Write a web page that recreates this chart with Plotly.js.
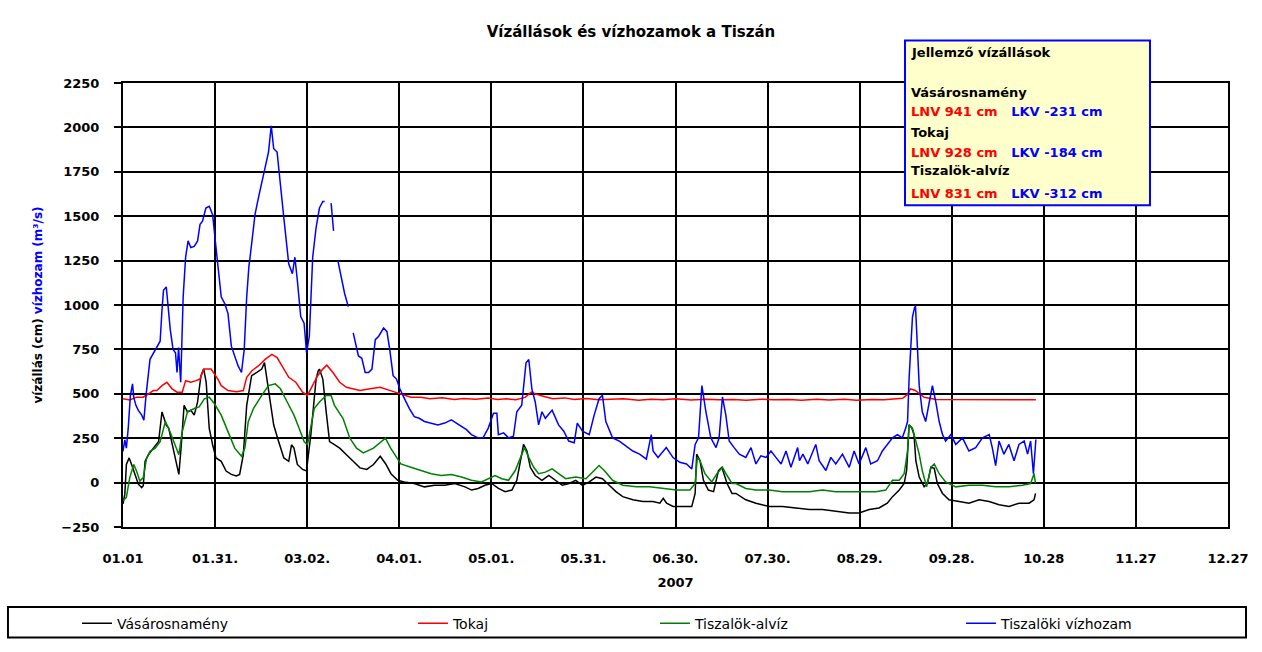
<!DOCTYPE html>
<html>
<head>
<meta charset="utf-8">
<script src="https://cdn.plot.ly/plotly-3.0.1.min.js"></script>
<style>html,body{margin:0;padding:0;background:#fff;}#chart{width:1262px;height:652px;}</style>
</head>
<body>
<div id="chart"></div>
<script>
// ---- data (day of year offset from 01.01, value) ----
var seriesNames = ['Vásárosnamény', 'Tokaj', 'Tiszalök-alvíz', 'Tiszalöki vízhozam'];
var seriesColors = ['#000000', '#ff0000', '#008000', '#0000ff'];

var vasarosDays = [0,0.6,1.1,2,2.8,3.9,5,6.1,6.6,7.2,8.3,9.9,11.6,12.7,13.2,14.1,14.9,16,17.1,18.2,19,19.9,21,22.1,23.2,24.3,25.4,26.3,27.1,28.1,29.2,30.3,32,33.6,35.3,36.9,38,39.2,40.3,41.9,43.6,45.2,46.1,47.4,49.1,50.7,52.4,54,54.9,55.7,56.8,58.5,59.8,60.4,61.2,62.9,63.6,64,65.1,66.2,67.3,69,70.6,72.8,75,77.2,79.4,81.6,83.8,85.6,87.3,89.5,91.6,94.9,98.2,101.5,104.8,108.1,111.4,113.6,115.7,117.9,120.1,122.3,124.5,126.7,128.3,129.4,130.5,131.6,132.7,134.3,136.5,138.7,140.9,143.1,145.3,147.5,149.7,151.9,154.1,156.2,158.4,160.6,162.8,166.1,169.4,172.7,174.9,176,177.1,179.2,182.5,185.3,186.4,186.9,188,189.1,190.7,192.4,194,195.1,196.8,198.4,199.7,202.9,206.2,210.5,214.9,219.2,223.6,227.9,232.2,236.6,239.8,243.1,246.3,249,250.7,252.9,254.5,255.3,256.1,257,257.7,258.3,259.4,261,262.1,263.2,264.3,265.3,267,269.1,272.4,275.6,278.9,282.2,285.4,288.7,291.9,295.2,296.8,297.3];
var vasarosVals = [-120,-65,102,139,102,46,-9,-28,-18,120,157,194,231,398,370,324,305,213,120,46,213,435,398,407,380,454,602,639,565,305,213,139,120,65,46,37,46,157,435,602,620,639,676,528,324,231,139,120,213,194,102,74,65,157,268,583,630,639,583,398,231,213,194,157,120,83,74,102,148,105,50,13,4,-5,-24,-15,-15,-5,-24,-42,-33,-15,-5,-33,-51,-42,13,105,215,178,86,40,13,40,13,-15,-5,13,-15,4,31,22,-15,-51,-79,-97,-107,-107,-116,-88,-116,-134,-134,-134,-61,160,123,13,-42,-51,68,86,-5,-61,-61,-97,-116,-134,-134,-143,-152,-152,-162,-171,-171,-152,-143,-116,-79,-42,-5,68,325,307,270,123,31,-24,-5,86,80,-5,-61,-97,-107,-116,-97,-107,-125,-134,-116,-116,-97,-61];

var tokajDays = [0,2.2,4.4,6.6,8.3,9.9,11,12.7,14.3,16,17.6,19.3,20.4,22.1,23.8,25.1,26.3,28.7,30.9,32,34.2,37,39.2,40.3,42,44.1,46.3,48.5,50.2,51.8,54,56.3,58.5,60.1,61.8,63.4,65.1,66.4,68.4,70.6,72.8,75,77.2,80.5,83.8,87.1,90.4,93.8,97,100,104,108,111,115,119,122,125,128,131,133,136,140,144,147,151,155,159,163,168,172,176,180,185,190,194,199,203,208,212,217,221,226,230,235,239,244,248,252,254,255.5,256.5,258,259.5,261,265,270,275,280,285,290,295,297.4];
var tokajVals = [472,465,481,481,500,518,518,546,565,528,509,509,574,565,574,583,639,639,583,546,518,512,518,593,630,657,694,722,704,657,593,565,509,491,546,602,639,661,620,565,537,528,518,528,537,518,500,481,480,472,478,468,474,470,476,468,472,466,480,509,490,472,477,468,474,466,470,472,464,470,467,472,465,470,466,468,464,470,466,468,464,469,465,470,464,468,466,470,475,495,527,520,500,480,468,467,469,466,468,466,467,467];

var alvizDays = [0,1.1,2.2,3.5,4.4,5.5,6.6,7.7,8.8,10.5,12.1,13.8,14.9,16.5,18.2,19.3,21,23.2,24.8,26.5,28.1,29.8,32,34.2,36.4,38.6,39.7,40.8,42.5,45.2,47.4,49.6,51.3,53.5,55.7,57.4,59,60.1,61.2,62.3,64,66.2,67.8,68.9,71.7,73.9,76.1,78.3,81.6,85.5,87.2,89.3,90.5,93.8,97.1,100.4,103.7,107,110.3,113.5,116.8,119,121.2,123.4,125.6,127.8,129.4,130.8,132.2,133.8,135.4,137.6,139.8,142,144.2,147.5,150.8,153.5,155.1,156.8,159.5,162.8,167.2,171.6,176,180.3,184.7,186.4,187.1,188,189.6,191.8,193.5,195.3,196.8,198.4,199.7,202.9,206.2,210.5,214.9,219.2,223.6,227.9,232.2,236.6,240.9,245.3,248.5,250.7,252.9,254.5,255.6,256.1,257.2,258.3,259.4,260.4,261.8,263.2,264.3,265.9,268,271.3,275.6,280,284.3,288.7,293,295.7,296.8,297.3];
var alvizVals = [-102,-83,28,102,65,9,28,139,176,194,231,343,305,231,157,287,398,417,426,472,481,444,380,287,194,148,194,343,417,491,546,556,528,454,380,305,231,213,324,417,454,491,491,435,361,250,194,167,194,250,194,139,105,86,68,50,40,45,31,13,4,22,40,22,13,68,142,197,142,86,50,59,77,50,22,31,22,68,96,68,13,-15,-24,-24,-33,-42,-42,-5,142,123,50,4,50,86,40,-5,-5,-33,-42,-42,-51,-51,-51,-42,-51,-51,-51,-51,-42,13,13,50,178,325,307,234,160,68,-24,86,105,50,4,-24,-15,-15,-24,-24,-15,-5,50,-5];

var vizhozamDays = [0,0.6,1.1,1.7,2.4,3.1,3.5,4.2,5,6.1,6.8,7.5,8.8,9.9,11,12.1,12.7,13.2,14.1,14.9,15.4,16.3,17.1,17.6,18.1,18.8,19.6,20.4,21.2,22.1,23.2,24.3,25.1,25.9,27,28.1,29.2,30.3,31.1,32,33.1,34.2,35.3,36.4,37.5,38.6,39.5,40.3,41,41.9,43,44.1,45.2,46.3,47.4,48.3,49.1,50.2,51.3,52.4,53.2,54,55.2,56,56.8,57.9,59,59.8,60.7,61.8,62.9,64,65.1,65.7,66.5,67.8,68.6,69.3,70,71.1,72.2,73.4,74.2,75,76.7,77.8,78.9,80,81.1,82.2,83.3,84.9,86,86.9,88,89.1,90.2,91.5,93.3,94.9,96.5,98.2,100.4,102.6,104.8,107,108.6,110.3,111.9,113.5,115.7,117.3,119,120.7,121.8,122.3,124,125.6,127.2,128.3,129.9,131.3,132.2,133.2,134.3,135.4,136.5,137.6,139.8,141.9,143.6,145.2,147,148,149.7,151.9,153.5,155.1,156.2,157.3,159.5,161.7,163.9,166.1,168.3,170.5,172.1,172.7,174.3,177,179.2,181.4,183.6,185.3,186.4,187.5,188.6,189.9,191.5,193.2,194.2,195.3,196.4,197.5,199.1,200.8,202.9,204.6,206.2,207.8,209.5,211.1,212.7,214.4,216,217.6,219.8,220.4,221.5,223.1,225.7,226.8,229,230.6,232.2,234.4,236.6,238.2,239.8,242,243.6,245.8,247.4,249,250.7,252.3,253.9,255,255.6,256.1,256.6,257.2,257.9,258.2,259.4,260.4,261.5,262.6,263.7,264.8,265.9,267,268,269.7,271.3,273.5,275.6,277.8,280,282.2,283.2,284.3,285.4,287,288.6,290.3,291.9,293.6,294.7,295.7,296.6,297.4];
var vizhozamVals = [176,241,194,305,490,556,481,435,407,380,352,490,694,731,768,796,972,1083,1102,953,861,750,731,620,760,565,1046,1269,1361,1324,1330,1361,1454,1472,1546,1556,1509,1324,1194,1046,1009,953,768,713,657,620,750,1046,1213,1343,1509,1602,1694,1787,1861,2009,1880,1861,1694,1491,1361,1231,1176,1269,1139,935,898,731,824,1269,1435,1546,1583,1583,null,1574,1417,null,1250,1148,1065,991,null,843,713,700,620,620,639,805,824,870,850,750,602,583,528,480,417,371,362,344,335,325,335,353,335,316,298,270,252,252,307,390,390,270,280,252,261,399,436,675,693,528,454,325,399,362,408,325,289,234,224,335,289,270,380,472,491,344,252,234,206,178,160,132,270,178,141,197,141,114,105,77,215,252,546,399,252,197,252,482,380,234,197,160,142,197,105,151,142,178,142,105,178,86,197,123,160,105,215,123,68,142,105,160,86,178,105,197,105,123,178,215,252,270,252,307,344,583,767,932,987,990,546,399,344,436,546,454,344,270,234,270,215,252,178,197,252,270,197,96,234,160,215,123,215,234,160,234,50,243];

var xTickVals = [0,30,60,90,120,150,180,210,240,270,300,330,360];
var xTickText = ['01.01','01.31.','03.02.','04.01.','05.01.','05.31.','06.30.','07.30.','08.29.','09.28.','10.28','11.27','12.27'];
var yTickVals = [-250,0,250,500,750,1000,1250,1500,1750,2000,2250];

var chartTitle = 'Vízállások és vízhozamok a Tiszán';
var xTitle = '2007';
var yTitleBlack = 'vízállás (cm)';
var yTitleBlue = 'vízhozam (m³/s)';

var boxLines = [
  {text: 'Jellemző vízállások', y: 1.0689},
  {text: 'Vásárosnamény', y: 0.9778},
  {text: '<span style="color:#ff0000">LNV 941 cm</span>&nbsp;&nbsp;&nbsp;<span style="color:#0000ff">LKV -231 cm</span>', y: 0.9356},
  {text: 'Tokaj', y: 0.8889},
  {text: '<span style="color:#ff0000">LNV 928 cm</span>&nbsp;&nbsp;&nbsp;<span style="color:#0000ff">LKV -184 cm</span>', y: 0.8444},
  {text: 'Tiszalök-alvíz', y: 0.8022},
  {text: '<span style="color:#ff0000">LNV 831 cm</span>&nbsp;&nbsp;&nbsp;<span style="color:#0000ff">LKV -312 cm</span>', y: 0.7511}
];

// legend left edges (paper x) for the four entries
var legendIds = ['legend', 'legend2', 'legend3', 'legend4'];
var legendX = [-0.0416, 0.2624, 0.4814, 0.7584];

var allDays = [vasarosDays, tokajDays, alvizDays, vizhozamDays];
var allVals = [vasarosVals, tokajVals, alvizVals, vizhozamVals];

var traces = seriesNames.map(function(n, i) {
  return {
    type: 'scatter', mode: 'lines', name: n,
    x: allDays[i], y: allVals[i],
    line: {color: seriesColors[i], width: 1.5},
    connectgaps: false, legend: legendIds[i],
    hoverinfo: 'x+y+name'
  };
});

var WFONT = 'DejaVu Sans, Verdana, sans-serif';

var annotations = boxLines.map(function(l) {
  return {
    xref: 'paper', yref: 'paper', x: 0.7113, y: l.y,
    xanchor: 'left', yanchor: 'middle', showarrow: false,
    text: l.text, align: 'left',
    font: {family: WFONT, size: 13, color: '#000', weight: 'bold'}
  };
});

var layout = {
  width: 1262, height: 652,
  paper_bgcolor: '#ffffff', plot_bgcolor: '#ffffff',
  margin: {l: 123, r: 34, t: 83, b: 119},
  showlegend: true,
  title: {
    text: chartTitle, xref: 'container', x: 0.5, xanchor: 'center',
    yref: 'container', y: 0.952, yanchor: 'middle',
    font: {family: WFONT, size: 15, color: '#000', weight: 'bold'}
  },
  xaxis: {
    range: [0, 360], tickmode: 'array', tickvals: xTickVals, ticktext: xTickText,
    showgrid: true, gridcolor: '#000', gridwidth: 2,
    zeroline: false, showline: true, linecolor: '#000', linewidth: 2, mirror: true,
    ticks: '', ticklabelstandoff: 18,
    tickfont: {family: WFONT, size: 13, color: '#000', weight: 'bold'},
    title: {text: xTitle, standoff: 13, font: {family: WFONT, size: 13, color: '#000', weight: 'bold'}},
    automargin: false, fixedrange: true
  },
  yaxis: {
    range: [-250, 2250], tickmode: 'array', tickvals: yTickVals,
    showgrid: true, gridcolor: '#000', gridwidth: 2,
    zeroline: false, showline: true, linecolor: '#000', linewidth: 2, mirror: true,
    ticks: 'outside', ticklen: 7, tickcolor: '#000', tickwidth: 2, ticklabelstandoff: 12,
    tickfont: {family: WFONT, size: 13, color: '#000', weight: 'bold'},
    title: {
      text: yTitleBlack + ' <span style="color:#0000ff">' + yTitleBlue + '</span>',
      standoff: 16,
      font: {family: WFONT, size: 12, color: '#000', weight: 'bold'}
    },
    automargin: false, fixedrange: true
  },
  shapes: [
    {type: 'rect', xref: 'paper', yref: 'paper', x0: 0.7077, x1: 0.9294, y0: 0.7244, y1: 1.0956,
     fillcolor: '#ffffcc', line: {color: '#0000ff', width: 2}, layer: 'above'},
    {type: 'rect', xref: 'paper', yref: 'paper', x0: -0.1041, x1: 1.0163, y0: -0.2489, y1: -0.18,
     fillcolor: 'rgba(0,0,0,0)', line: {color: '#000', width: 2}, layer: 'above'}
  ],
  annotations: annotations
};

legendIds.forEach(function(id, i) {
  layout[id] = {
    orientation: 'h', x: legendX[i], xanchor: 'left', y: -0.2178, yanchor: 'middle',
    bgcolor: 'rgba(0,0,0,0)', borderwidth: 0,
    font: {family: WFONT, size: 14, color: '#000'}
  };
});

Plotly.newPlot('chart', traces, layout, {displayModeBar: false, staticPlot: true});
</script>
</body>
</html>
